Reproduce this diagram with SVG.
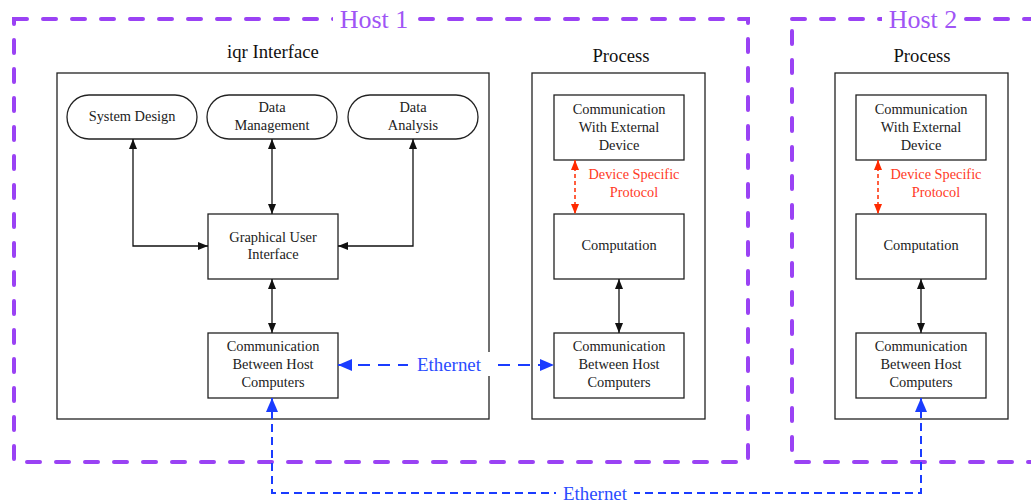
<svg xmlns="http://www.w3.org/2000/svg" width="1031" height="502" viewBox="0 0 1031 502">
  <style>
    text { font-family: "Liberation Serif", "Times New Roman", serif; }
    .host { fill: none; stroke: #9a42f4; stroke-width: 4; stroke-dasharray: 13 16; stroke-linecap: round; }
    .hostlabel { font-size: 26px; fill: #9f55f5; text-anchor: middle; }
    .title { font-size: 18.7px; fill: #111; text-anchor: middle; }
    .frame { fill: #fff; stroke: #222; stroke-width: 1.3; }
    .node { fill: #fff; stroke: #222; stroke-width: 1.3; }
    .lbl { font-size: 14.4px; fill: #222; text-anchor: middle; }
    .red { font-size: 14.3px; fill: #ff3b1f; text-anchor: middle; }
    .eth { font-size: 18.9px; fill: #2b4dff; text-anchor: middle; }
    .arrow { fill: none; stroke: #111; stroke-width: 1.3; marker-start: url(#ah); marker-end: url(#ah); }
    .proto { fill: none; stroke: #ff2a00; stroke-width: 1.5; stroke-dasharray: 4 3; marker-start: url(#ahr); marker-end: url(#ahr); }
    .net { fill: none; stroke: #1a3cff; stroke-width: 2; marker-start: url(#ahb); marker-end: url(#ahb); }
  </style>
  <defs>
    <marker id="ah" markerUnits="userSpaceOnUse" markerWidth="11" markerHeight="9" refX="10" refY="4" orient="auto-start-reverse">
      <path d="M0,0 L10,4 L0,8 z" fill="#111"/>
    </marker>
    <marker id="ahr" markerUnits="userSpaceOnUse" markerWidth="11" markerHeight="9" refX="10" refY="4" orient="auto-start-reverse">
      <path d="M0,0 L10,4 L0,8 z" fill="#ff2a00"/>
    </marker>
    <marker id="ahb" markerUnits="userSpaceOnUse" markerWidth="15" markerHeight="13" refX="14" refY="6" orient="auto-start-reverse">
      <path d="M0,0 L14,6 L0,12 z" fill="#1a3cff"/>
    </marker>
  </defs>

  <rect width="1031" height="502" fill="#fff"/>

  <!-- host boundaries -->
  <g id="host1">
    <rect class="host" x="14" y="19" width="734" height="443"/>
    <rect x="333" y="8" width="82" height="24" fill="#fff"/>
    <text class="hostlabel" x="374" y="28">Host 1</text>
  </g>
  <g id="host2">
    <rect class="host" x="792" y="19" width="280" height="443"/>
    <rect x="882" y="8" width="82" height="24" fill="#fff"/>
    <text class="hostlabel" x="923" y="28">Host 2</text>
  </g>

  <!-- host 1: iqr interface -->
  <g id="iqr-interface">
    <text class="title" x="273" y="58">iqr Interface</text>
    <rect class="frame" x="57" y="73" width="432" height="346"/>
  </g>
  <g id="system-design">
    <rect class="node" x="67" y="95" width="130" height="44" rx="22" ry="22"/>
    <text class="lbl" x="132" y="121">System Design</text>
  </g>
  <g id="data-management">
    <rect class="node" x="207" y="95" width="130" height="44" rx="22" ry="22"/>
    <text class="lbl" x="272" y="112">Data</text>
    <text class="lbl" x="272" y="130">Management</text>
  </g>
  <g id="data-analysis">
    <rect class="node" x="348" y="95" width="130" height="44" rx="22" ry="22"/>
    <text class="lbl" x="413" y="112">Data</text>
    <text class="lbl" x="413" y="130">Analysis</text>
  </g>
  <g id="gui">
    <rect class="node" x="208" y="214" width="130" height="65"/>
    <text class="lbl" x="273" y="242">Graphical User</text>
    <text class="lbl" x="273" y="259">Interface</text>
  </g>
  <g id="comm-host-1a">
    <rect class="node" x="208" y="333" width="130" height="65"/>
    <text class="lbl" x="273" y="351">Communication</text>
    <text class="lbl" x="273" y="369">Between Host</text>
    <text class="lbl" x="273" y="387">Computers</text>
  </g>

  <!-- host 1: process -->
  <g id="process-1">
    <text class="title" x="621" y="62">Process</text>
    <rect class="frame" x="532" y="73" width="173" height="346"/>
  </g>
  <g id="ext-device-1">
    <rect class="node" x="554" y="95" width="130" height="65"/>
    <text class="lbl" x="619" y="114">Communication</text>
    <text class="lbl" x="619" y="132">With External</text>
    <text class="lbl" x="619" y="150">Device</text>
  </g>
  <g id="computation-1">
    <rect class="node" x="554" y="214" width="130" height="65"/>
    <text class="lbl" x="619" y="250">Computation</text>
  </g>
  <g id="comm-host-1b">
    <rect class="node" x="554" y="333" width="130" height="65"/>
    <text class="lbl" x="619" y="351">Communication</text>
    <text class="lbl" x="619" y="369">Between Host</text>
    <text class="lbl" x="619" y="387">Computers</text>
  </g>

  <!-- host 2: process -->
  <g id="process-2">
    <text class="title" x="922" y="62">Process</text>
    <rect class="frame" x="835" y="73" width="173" height="346"/>
  </g>
  <g id="ext-device-2">
    <rect class="node" x="856" y="95" width="130" height="65"/>
    <text class="lbl" x="921" y="114">Communication</text>
    <text class="lbl" x="921" y="132">With External</text>
    <text class="lbl" x="921" y="150">Device</text>
  </g>
  <g id="computation-2">
    <rect class="node" x="856" y="214" width="130" height="65"/>
    <text class="lbl" x="921" y="250">Computation</text>
  </g>
  <g id="comm-host-2">
    <rect class="node" x="856" y="333" width="130" height="65"/>
    <text class="lbl" x="921" y="351">Communication</text>
    <text class="lbl" x="921" y="369">Between Host</text>
    <text class="lbl" x="921" y="387">Computers</text>
  </g>

  <!-- connectors -->
  <g id="connectors">
    <path class="arrow" d="M133,139 V246 H208"/>
    <path class="arrow" d="M272,139 V214"/>
    <path class="arrow" d="M413,139 V246 H338"/>
    <path class="arrow" d="M272,279 V333"/>
    <path class="arrow" d="M619,279 V333"/>
    <path class="arrow" d="M921,279 V333"/>

    <path class="proto" d="M575,160 V214"/>
    <text class="red" x="634" y="179">Device Specific</text>
    <text class="red" x="634" y="197">Protocol</text>
    <path class="proto" d="M878,160 V214"/>
    <text class="red" x="936" y="179">Device Specific</text>
    <text class="red" x="936" y="197">Protocol</text>

    <path class="net" stroke-dasharray="12 8" d="M338,365 H554"/>
    <rect x="408" y="352" width="82" height="24" fill="#fff"/>
    <text class="eth" x="449" y="371">Ethernet</text>

    <path class="net" stroke-dasharray="8 5" d="M272,398 V493 H921 V398"/>
    <rect x="556" y="484" width="78" height="18" fill="#fff"/>
    <text class="eth" x="595" y="500">Ethernet</text>
  </g>
</svg>
